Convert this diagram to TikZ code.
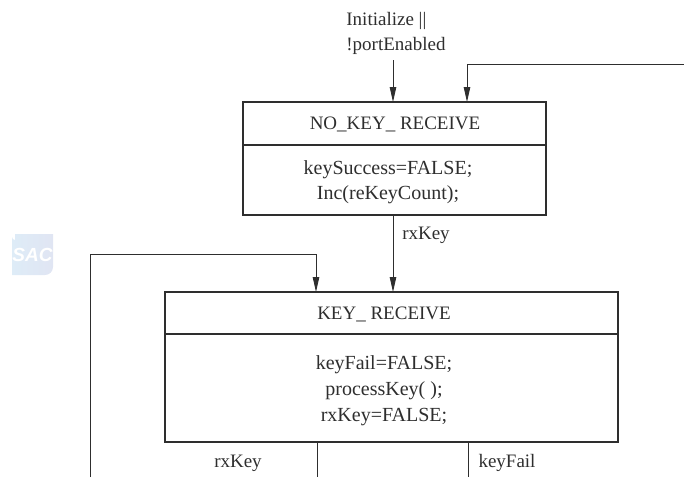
\documentclass[tikz,border=0pt]{standalone}
\usepackage{fontspec}
\setmainfont{Liberation Serif}
\newfontfamily\logofont{Liberation Sans}
\usetikzlibrary{arrows.meta,positioning}
\definecolor{inkgray}{gray}{0.18}
\definecolor{logoleft}{RGB}{222,236,247}
\definecolor{logoright}{RGB}{224,229,243}
\tikzset{
    statehead/.style={draw=inkgray, line width=1.6pt, minimum height=#1, inner sep=0pt, outer sep=0pt},
    statebody/.style={draw=inkgray, line width=1.6pt, minimum height=#1, inner sep=0pt, outer sep=0pt},
    lbl/.style={inner sep=0pt, text=inkgray, align=center},
    trans/.style={draw=inkgray, line width=0.9pt, -{Triangle[length=15pt,width=6.5pt]}},
    wire/.style={draw=inkgray, line width=0.9pt}
}
\begin{document}
\begin{tikzpicture}[x=1pt, y=-1pt, font=\fontsize{19}{25}\selectfont]
        \useasboundingbox (0, 0) rectangle (684, 477);

        \node[statehead=43pt, minimum width=303pt] at (394.5, 123.5)(noKeyHead){};
        \node[statebody=70pt, minimum width=303pt, below=0pt of noKeyHead](noKeyBody){};
        \node[statehead=42pt, minimum width=453pt] at (391.5, 313)(keyHead){};
        \node[statebody=108pt, minimum width=453pt, below=0pt of keyHead](keyBody){};

        \node[lbl] at (395, 124)(noKeyTitle){NO\_KEY\_ RECEIVE};
        \node[lbl, font=\fontsize{20}{25.5}\selectfont] at (388, 182)(noKeyAction){keySuccess=FALSE;\\Inc(reKeyCount);};
        \node[lbl] at (384, 314)(keyTitle){KEY\_ RECEIVE};
        \node[lbl, font=\fontsize{20}{26}\selectfont] at (384, 391)(keyAction){keyFail=FALSE;\\processKey( );\\rxKey=FALSE;};

        \node[lbl, align=left] at (396, 33)(initLabel){Initialize ||\\!portEnabled};
        \node[lbl] at (426, 235)(rxKeyTop){rxKey};
        \node[lbl] at (238, 463)(rxKeyBottom){rxKey};
        \node[lbl] at (507, 463)(keyFailLabel){keyFail};

        \coordinate (initStart) at (393, 60);
        \coordinate (loopTop) at (467, 64);
        \coordinate (loopTopEnd) at (684, 64);
        \coordinate (rxKeyIn) at (393, 235);
        \coordinate (loopLeft) at (90, 254);
        \coordinate (loopLeftIn) at (316, 254);
        \coordinate (loopLeftEnd) at (90, 477);
        \coordinate (rxKeyEnd) at (317, 477);
        \coordinate (keyFailEnd) at (468, 477);

        \path[trans]
        (initStart)--(initStart |- noKeyHead.north);
        \path[trans]
        (loopTopEnd)--(loopTop)--(loopTop |- noKeyHead.north);
        \path[trans]
        (rxKeyIn |- noKeyBody.south)--(rxKeyIn |- keyHead.north);
        \path[trans]
        (loopLeftEnd)--(loopLeft)--(loopLeftIn)--(loopLeftIn |- keyHead.north);
        \path[wire]
        (rxKeyEnd |- keyBody.south)--(rxKeyEnd)
        (keyFailEnd |- keyBody.south)--(keyFailEnd);

        \shade[left color=logoleft, right color=logoright]
        (15, 234)--(53, 234)--(53, 267) arc[start angle=0, end angle=90, radius=8]--(12, 275)--(12, 237) arc[start angle=180, end angle=90, radius=3]--cycle;
        \node[inner sep=0pt, text=white, font=\logofont\bfseries\itshape\fontsize{19}{19}\selectfont] at (32.5, 255)(logo){SAC};
    \end{tikzpicture}
\end{document}
